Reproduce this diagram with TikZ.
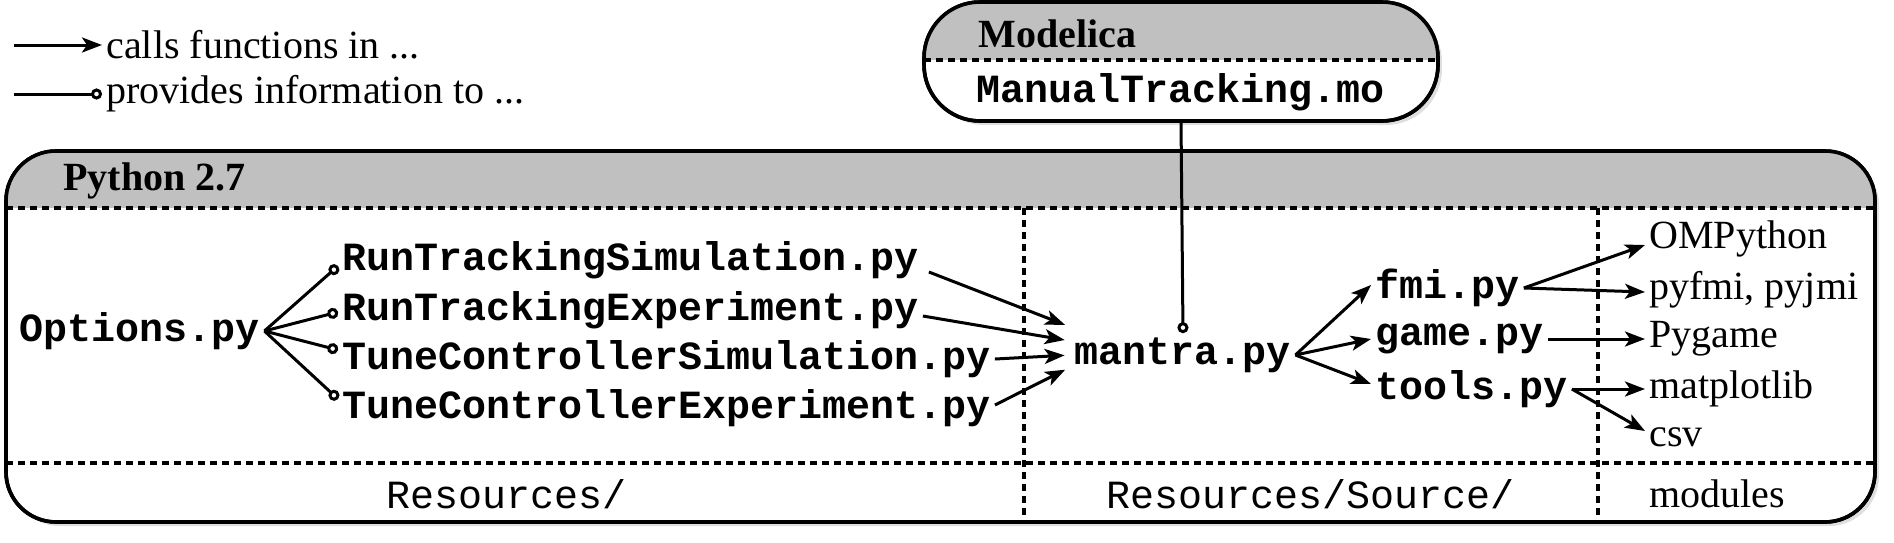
\documentclass[tikz,border=0pt]{standalone}
\usepackage{fontspec}
\setmainfont{Liberation Serif}
\setmonofont{Liberation Mono}
\usepackage{tikz}
\usetikzlibrary{arrows.meta, shadows}

\definecolor{entete}{HTML}{C0C0C0}

\tikzset{
  fichier/.style={font=\fontsize{20}{24}\selectfont\ttfamily\bfseries, inner sep=2pt},
  dossier/.style={font=\fontsize{20}{24}\selectfont\ttfamily, inner sep=2pt},
  texte/.style={font=\fontsize{20}{24}\selectfont, inner sep=2pt},
  titre/.style={font=\fontsize{20}{24}\selectfont\bfseries, inner sep=2pt},
  appel/.style={line width=1.5pt, -{Stealth[length=10pt, width=7.5pt, inset=2.5pt]}},
  info/.style={line width=1.5pt, -{Circle[open, length=5.5pt, width=5.5pt]}},
  cadre/.style={draw, line width=1.8pt, fill=white, outer sep=0pt, inner sep=0pt,
    drop shadow={shadow xshift=2pt, shadow yshift=-2pt, opacity=0.25}},
  sep/.style={line width=1.6pt, dash pattern=on 3.5pt off 2.5pt}
}

\begin{document}
\begin{tikzpicture}[x=0.5pt, y=-0.5pt]
    \useasboundingbox (0,0) rectangle (1894,542);

    % Legende
    \coordinate (l1) at (14,45);
    \coordinate (l2) at (14,94);
    \node[texte, anchor=west] (leg1) at (102,45) {calls functions in ...};
    \node[texte, anchor=west] (leg2) at (102,94) {provides information to ...};
    \draw[appel] (l1) -- (leg1.west);
    \draw[info] (l2) -- (leg2.west);

    % Cadre Python 2.7
    \node[cadre, rounded corners=25pt, minimum width=934.5pt, minimum height=185.5pt] (py) at (940.5,336.5) {};
    \begin{scope}
        \clip[rounded corners=25pt] (py.north west) rectangle (py.south east);
        \fill[entete] (py.north west) rectangle (py.east |- 0,208);
    \end{scope}
    \draw[line width=1.8pt, rounded corners=25pt] (py.north west) rectangle (py.south east);
    \node[titre, anchor=west] (pytitre) at (59,181) {Python 2.7};

    % Separations
    \draw[sep] (py.west |- 0,208) -- (py.east |- 0,208);
    \draw[sep] (py.west |- 0,463) -- (py.east |- 0,463);
    \foreach \x in {1024,1598} {
        \draw[sep] (\x,208) -- (\x,522);
    }

    % Dossiers
    \node[dossier] (res) at (507,494) {Resources/};
    \node[dossier] (ressrc) at (1311,494) {Resources/Source/};
    \node[texte, anchor=west] (modules) at (1645,494) {modules};

    % Cadre Modelica
    \node[cadre, rounded corners=28pt, minimum width=257pt, minimum height=59.5pt] (mod) at (1181,61.5) {};
    \begin{scope}
        \clip[rounded corners=28pt] (mod.north west) rectangle (mod.south east);
        \fill[entete] (mod.north west) rectangle (mod.east |- 0,60);
    \end{scope}
    \draw[line width=1.8pt, rounded corners=28pt] (mod.north west) rectangle (mod.south east);
    \draw[sep] (mod.west |- 0,60) -- (mod.east |- 0,60);
    \node[titre, anchor=west] (modtitre) at (974,34) {Modelica};
    \node[fichier] (mo) at (1181,92) {ManualTracking.mo};

    % Fichiers
    \node[fichier] (opt) at (140,331) {Options.py};
    \foreach \nom/\fic/\y in {rts/RunTrackingSimulation.py/260, rte/RunTrackingExperiment.py/310,
                              tcs/TuneControllerSimulation.py/359, tce/TuneControllerExperiment.py/408} {
        \node[fichier, anchor=west] (\nom) at (338,\y) {\fic};
    }
    \node[fichier] (mantra) at (1183,355) {mantra.py};
    \foreach \nom/\fic/\y in {fmi/fmi.py/288, game/game.py/339, tools/tools.py/389} {
        \node[fichier, anchor=west] (\nom) at (1371,\y) {\fic};
    }

    % Modules
    \foreach \nom/\txt/\y in {omp/OMPython/239, pyf/{pyfmi, pyjmi}/290, pyg/Pygame/339,
                              mpl/matplotlib/389, csv/csv/437} {
        \node[texte, anchor=west] (\nom) at (1645,\y) {\txt};
    }

    % Liens
    \draw[info] (mod.south) -- (mantra.north);
    \draw[info] (opt.east) -- ([yshift=-3pt]rts.west);
    \draw[info] (opt.east) -- ([yshift=-1pt]rte.west);
    \draw[info] (opt.east) -- ([yshift=4.5pt]tcs.west);
    \draw[info] (opt.east) -- ([yshift=4.5pt]tce.west);

    \draw[appel, shorten >=3pt] ([xshift=3pt, yshift=-6pt]rts.east) -- ([yshift=14pt]mantra.west);
    \draw[appel, shorten >=3pt] ([yshift=-3pt]rte.east) -- ([yshift=7pt]mantra.west);
    \draw[appel, shorten >=3pt] (tcs.east) -- (mantra.west);
    \draw[appel, shorten >=3pt] ([yshift=1.5pt]tce.east) -- ([yshift=-6pt]mantra.west);

    \draw[appel] (mantra.east) -- ([yshift=1.5pt]fmi.west);
    \draw[appel] (mantra.east) -- (game.west);
    \draw[appel] (mantra.east) -- ([yshift=2.5pt]tools.west);

    \draw[appel] (fmi.east) -- ([yshift=-3pt]omp.west);
    \draw[appel] (fmi.east) -- ([yshift=-1pt]pyf.west);
    \draw[appel] (game.east) -- (pyg.west);
    \draw[appel] (tools.east) -- (mpl.west);
    \draw[appel] (tools.east) -- ([yshift=3pt]csv.west);
\end{tikzpicture}
\end{document}
